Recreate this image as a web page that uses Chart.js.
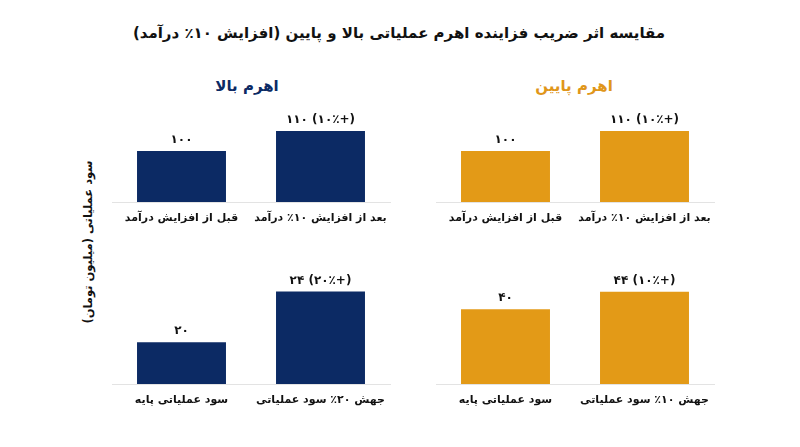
<!DOCTYPE html>
<html lang="fa" dir="rtl">
<head>
<meta charset="utf-8">
<script src="https://cdn.jsdelivr.net/npm/chart.js@4.4.1/dist/chart.umd.min.js"></script>
<style>
  body { margin: 0; background: #fff; font-family: 'DejaVu Sans', sans-serif; }
  #wrap { position: relative; width: 800px; height: 447px; overflow: hidden; }
  .txt { position: absolute; white-space: nowrap; font-weight: bold; transform: translate(-50%, -50%); }
  canvas { position: absolute; }
</style>
</head>
<body>
<div id="wrap">
  <div class="txt" style="left:399px; top:33px; font-size:15px; color:#111;">مقایسه اثر ضریب فزاینده اهرم عملیاتی بالا و پایین (افزایش ۱۰٪ درآمد)</div>
  <div class="txt" style="left:247px; top:86px; font-size:15px; color:#0c2a64;">اهرم بالا</div>
  <div class="txt" style="left:574px; top:86px; font-size:15px; color:#e0961a;">اهرم پایین</div>
  <div class="txt" style="left:88px; top:242px; font-size:11.5px; color:#111; transform: translate(-50%, -50%) rotate(-90deg);">سود عملیاتی (میلیون تومان)</div>

  <!-- canvases are 30px wider on each side so long tick labels are not clipped -->
  <canvas id="highTop" width="338" height="132" style="left:82px; top:100px;"></canvas>
  <canvas id="lowTop" width="338" height="132" style="left:406px; top:100px;"></canvas>
  <canvas id="highBottom" width="338" height="149" style="left:82px; top:265px;"></canvas>
  <canvas id="lowBottom" width="338" height="149" style="left:406px; top:265px;"></canvas>
</div>
<script>
// categories
const revenueLabels = ['قبل از افزایش درآمد', 'بعد از افزایش ۱۰٪ درآمد'];
const lowProfitLabels = ['سود عملیاتی پایه', 'جهش ۱۰٪ سود عملیاتی'];
const highProfitLabels = ['سود عملیاتی پایه', 'جهش ۲۰٪ سود عملیاتی'];

// values (million toman)
const lowRevenue = [100, 110];
const highRevenue = [100, 110];
const lowProfit = [40, 44];
const highProfit = [20, 24];

// percent change shown next to the second bar
const revenueChange = [null, 10];
const lowProfitChange = [null, 10];
const highProfitChange = [null, 20];

const navy = '#0c2a64';
const orange = '#e39a17';

function fa(n) {
    return String(n).replace(/\d/g, d => '۰۱۲۳۴۵۶۷۸۹'[d]);
}

// draws value labels above the bars
const valueLabels = {
    id: 'valueLabels',
    afterDatasetsDraw(chart) {
        const ctx = chart.ctx;
        const changes = chart.options.plugins.valueLabels.changes;
        const meta = chart.getDatasetMeta(0);
        ctx.save();
        ctx.direction = 'ltr';
        ctx.font = 'bold 12px "DejaVu Sans"';
        ctx.fillStyle = '#111';
        ctx.textAlign = 'center';
        ctx.textBaseline = 'bottom';
        meta.data.forEach((bar, i) => {
            const v = chart.data.datasets[0].data[i];
            let txt = fa(v);
            if (changes[i]) txt += ' (' + fa(changes[i]) + '٪+)';
            ctx.fillText(txt, bar.x, bar.y - 5);
        });
        ctx.restore();
    }
};

function makeChart(id, labels, values, changes, color, yMin, yMax) {
    return new Chart(document.getElementById(id), {
        type: 'bar',
        data: {
            labels: labels,
            datasets: [{
                data: values,
                backgroundColor: color,
                barPercentage: 0.64,
                categoryPercentage: 1
            }]
        },
        options: {
            responsive: false,
            animation: false,
            layout: { padding: { left: 30, right: 30, top: 0, bottom: 0 } },
            plugins: {
                legend: { display: false },
                tooltip: { enabled: false },
                valueLabels: { changes: changes }
            },
            scales: {
                x: {
                    grid: { display: false, drawTicks: false },
                    border: { display: true, color: '#e3e3e3', width: 1 },
                    ticks: {
                        padding: 10,
                        color: '#111',
                        autoSkip: false,
                        maxRotation: 0,
                        minRotation: 0,
                        font: { family: 'DejaVu Sans', size: 11, weight: 'bold' }
                    },
                    afterFit: (axis) => {
                        axis.height = 30;
                        axis.paddingLeft = 0;
                        axis.paddingRight = 0;
                    }
                },
                y: {
                    display: false,
                    min: yMin,
                    max: yMax
                }
            }
        },
        plugins: [valueLabels]
    });
}

makeChart('highTop', revenueLabels, highRevenue, revenueChange, navy, 74.5, 125.5);
makeChart('lowTop', revenueLabels, lowRevenue, revenueChange, orange, 74.5, 125.5);
makeChart('highBottom', highProfitLabels, highProfit, highProfitChange, navy, 16.7, 26.1);
makeChart('lowBottom', lowProfitLabels, lowProfit, lowProfitChange, orange, 22.7, 50.2);
</script>
</body>
</html>
